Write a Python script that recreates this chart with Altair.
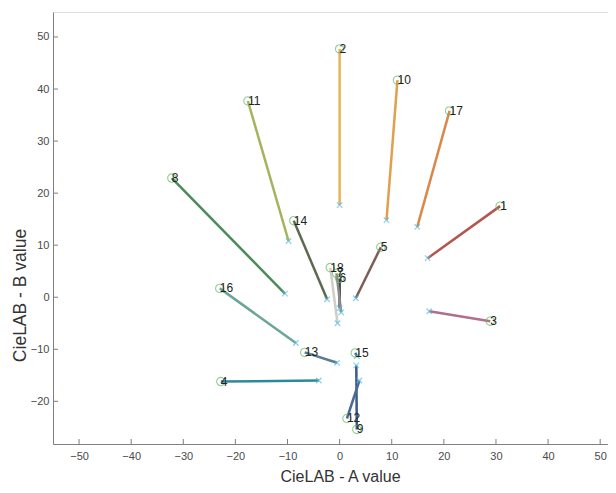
import altair as alt
import pandas as pd

# sample ids, circle end (label) and cross end, in CieLAB A/B units
ids = ["1", "2", "3", "4", "5", "6", "7", "8", "9", "10", "11", "12", "13", "14", "15", "16", "17", "18"]
a_circle = [30.8, 0.0, 28.9, -22.8, 7.9, 0.0, -0.6, -32.2, 3.3, 11.1, -17.6, 1.4, -6.7, -8.8, 3.0, -23.0, 21.1, -1.8]
b_circle = [17.5, 47.7, -4.6, -16.2, 9.6, 3.6, 4.6, 22.9, -25.4, 41.7, 37.7, -23.3, -10.6, 14.7, -10.7, 1.7, 35.8, 5.7]
a_cross = [16.9, 0.0, 17.2, -4.0, 3.1, 0.0, 0.3, -10.5, 3.2, 9.0, -9.8, 3.8, -0.5, -2.4, 3.3, -8.4, 14.9, -0.4]
b_cross = [7.5, 17.7, -2.7, -16.0, -0.2, -2.1, -2.9, 0.7, -13.1, 14.8, 10.8, -16.0, -12.6, -0.4, -11.3, -8.8, 13.5, -5.0]
line_colors = ["#b3564f", "#e2b558", "#b06f8a", "#2b8a99", "#7d5d55", "#3c3c3c", "#8a8a8a", "#4b8a5a",
               "#3a5a8a", "#e0a050", "#a3b45e", "#4a6a9a", "#5a7a90", "#5d6a50", "#4a6082", "#6aa598",
               "#d8884a", "#cfcfc6"]

x_ticks = [-50, -40, -30, -20, -10, 0, 10, 20, 30, 40, 50]
y_ticks = [-20, -10, 0, 10, 20, 30, 40, 50]
x_domain = [-55, 51.5]
y_domain = [-28.2, 54.8]

W, H = 555, 432

df = pd.DataFrame({"id": ids, "a1": a_circle, "b1": b_circle, "a2": a_cross, "b2": b_cross, "col": line_colors})

xs = alt.Scale(domain=x_domain, nice=False, zero=False)
ys = alt.Scale(domain=y_domain, nice=False, zero=False)

xax = alt.Axis(values=x_ticks, grid=False, tickSize=0, labelPadding=6, domainColor="#7f7f7f",
               labelColor="#4a4a4a", labelFont="Liberation Sans", labelFontSize=11,
               title="CieLAB - A value", titleFont="Liberation Sans", titleFontSize=16,
               titleFontWeight="normal", titleColor="#333333", titleX=287, titleY=37,
               titleBaseline="alphabetic", titleAlign="center", titleAnchor="start")
yax = alt.Axis(values=y_ticks, grid=False, tickSize=0, labelPadding=4, domainColor="#7f7f7f",
               labelColor="#4a4a4a", labelFont="Liberation Sans", labelFontSize=11,
               title="CieLAB - B value", titleFont="Liberation Sans", titleFontSize=17.5,
               titleFontWeight="normal", titleColor="#333333", titleX=-28, titleY=283,
               titleBaseline="alphabetic", titleAlign="center", titleAngle=-90, titleAnchor="start")

base = alt.Chart(df)

lines = base.mark_rule(strokeWidth=2.5).encode(
    x=alt.X("a1:Q", scale=xs, axis=xax),
    y=alt.Y("b1:Q", scale=ys, axis=yax),
    x2="a2:Q", y2="b2:Q",
    color=alt.Color("col:N", scale=None),
)

circles = base.mark_point(shape="circle", filled=False, size=70, stroke="#66bb66", strokeWidth=1.1).encode(
    x=alt.X("a1:Q", scale=xs), y=alt.Y("b1:Q", scale=ys))

crosses = base.mark_point(shape="M-1,-1L1,1M-1,1L1,-1", filled=False, size=30, stroke="#5bbde0", strokeWidth=1.2).encode(
    x=alt.X("a2:Q", scale=xs), y=alt.Y("b2:Q", scale=ys))

labels = base.mark_text(align="left", baseline="middle", dx=0, dy=0, fontSize=12, font="Liberation Sans",
                        color="#222222").encode(
    x=alt.X("a1:Q", scale=xs), y=alt.Y("b1:Q", scale=ys), text="id:N")

xt = pd.DataFrame({"v": x_ticks})
yt = pd.DataFrame({"v": y_ticks})
xtick_marks = alt.Chart(xt).mark_rule(color="#7f7f7f", strokeWidth=1).encode(
    x=alt.X("v:Q", scale=xs), y=alt.value(H), y2=alt.value(H - 5))
ytick_marks = alt.Chart(yt).mark_rule(color="#7f7f7f", strokeWidth=1).encode(
    y=alt.Y("v:Q", scale=ys), x=alt.value(0), x2=alt.value(5))

chart = alt.layer(lines, xtick_marks, ytick_marks, crosses, circles, labels).properties(
    width=W, height=H,
    autosize=alt.AutoSizeParams(type="none"),
    padding={"left": 45, "top": 4, "right": 0, "bottom": 41},
).configure_view(stroke=None).configure(background="white")

chart.save("out.html", embed_options={"renderer": "svg", "actions": False})
